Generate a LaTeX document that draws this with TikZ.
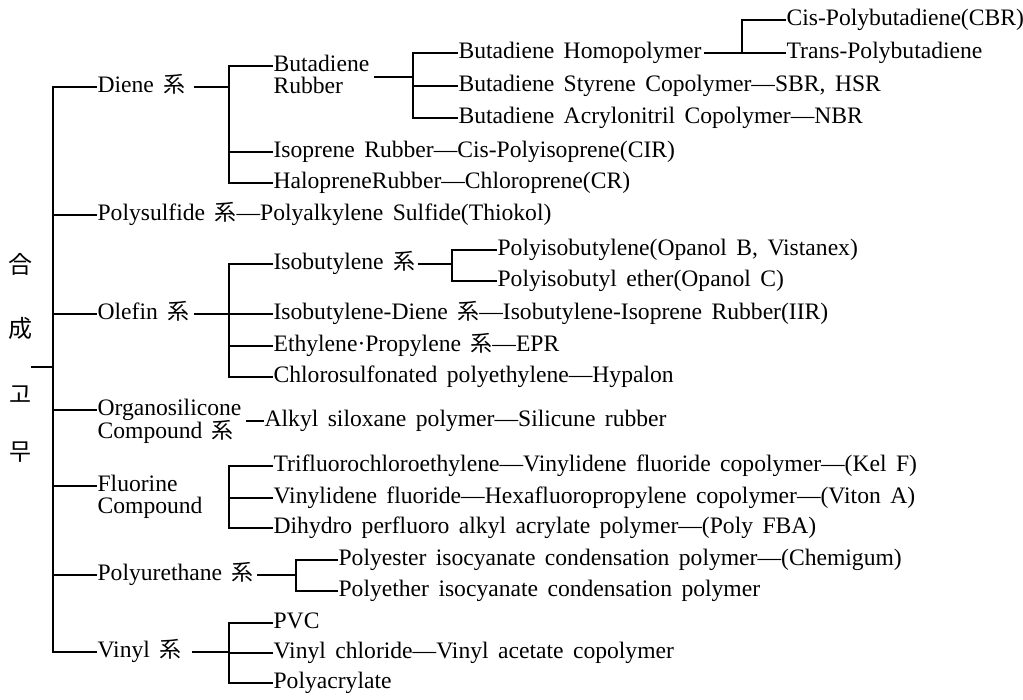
\documentclass[tikz,border=0pt]{standalone}
\usepackage{fontspec}
\setmainfont[WordSpace=1.6]{Liberation Serif}
\newfontfamily\cjk{Noto Sans CJK KR}
\newcommand\kei{{\cjk\fontsize{22}{24}\selectfont 系}}
\usetikzlibrary{calc}
\begin{document}
\begin{tikzpicture}[x=1pt,y=-1pt,line width=1.2pt,
  lbl/.style={anchor=west,inner sep=0pt,font=\fontsize{23.6}{26}\selectfont,text height=16pt,text depth=5pt},
  root/.style={inner sep=0pt,font=\cjk\fontsize{24}{26}\selectfont}]
\useasboundingbox[fill=white] (0,0) rectangle (1023,700);
% root label
\node[root] (r1) at (21,264) {合};
\node[root] (r2) at (21,328) {成};
\node[root] (r3) at (21,395) {고};
\node[root] (r4) at (21,452) {무};
\coordinate (rt) at (31,367);
\coordinate (sp) at (53,0);
% level 1
\node[lbl] (diene) at (97,87) {Diene \kei};
\node[lbl] (polys) at (97,215) {Polysulfide \kei—Polyalkylene Sulfide(Thiokol)};
\node[lbl] (olefin) at (97,314) {Olefin \kei};
\node[lbl] (orgA) at (97,410) {Organosilicone};
\node[lbl] (orgB) at (97,433) {Compound \kei};
\node[lbl] (fluA) at (97,486) {Fluorine};
\node[lbl] (fluB) at (97,508) {Compound};
\node[lbl] (pu) at (97,575) {Polyurethane \kei};
\node[lbl] (vinyl) at (97,652) {Vinyl \kei};
% level 2
\coordinate (bD) at (229,0);
\node[lbl] (butA) at (273,66) {Butadiene};
\node[lbl] (butB) at (273,88) {Rubber};
\node[lbl] (iso) at (273,152) {Isoprene Rubber—Cis-Polyisoprene(CIR)};
\node[lbl] (halo) at (273,183) {HalopreneRubber—Chloroprene(CR)};
\coordinate (bO) at (229,0);
\node[lbl] (isob) at (273,264) {Isobutylene \kei};
\node[lbl] (isod) at (273,314) {Isobutylene-Diene \kei—Isobutylene-Isoprene Rubber(IIR)};
\node[lbl] (ethp) at (273,346) {Ethylene·Propylene \kei—EPR};
\node[lbl] (chlo) at (273,377) {Chlorosulfonated polyethylene—Hypalon};
\node[lbl] (alkyl) at (264,421) {Alkyl siloxane polymer—Silicune rubber};
\coordinate (bF) at (229,0);
\node[lbl] (tri) at (273,466) {Trifluorochloroethylene—Vinylidene fluoride copolymer—(Kel F)};
\node[lbl] (vdf) at (273,498) {Vinylidene fluoride—Hexafluoropropylene copolymer—(Viton A)};
\node[lbl] (dih) at (273,528) {Dihydro perfluoro alkyl acrylate polymer—(Poly FBA)};
\coordinate (bP) at (296,0);
\node[lbl] (pest) at (338,560) {Polyester isocyanate condensation polymer—(Chemigum)};
\node[lbl] (peth) at (338,591) {Polyether isocyanate condensation polymer};
\coordinate (bV) at (229,0);
\node[lbl] (pvc) at (273,623) {PVC};
\node[lbl] (vcl) at (273,653) {Vinyl chloride—Vinyl acetate copolymer};
\node[lbl] (pac) at (273,683) {Polyacrylate};
% level 3
\coordinate (bB) at (413,0);
\node[lbl] (homo) at (458,53) {Butadiene Homopolymer};
\node[lbl] (sbr) at (458,86) {Butadiene Styrene Copolymer—SBR, HSR};
\node[lbl] (nbr) at (458,118) {Butadiene Acrylonitril Copolymer—NBR};
\coordinate (bI) at (452,0);
\node[lbl] (pib) at (497,250) {Polyisobutylene(Opanol B, Vistanex)};
\node[lbl] (pibe) at (497,281) {Polyisobutyl ether(Opanol C)};
% level 4
\coordinate (bH) at (742,0);
\node[lbl] (cis) at (786,20) {Cis-Polybutadiene(CBR)};
\node[lbl] (trans) at (786,53) {Trans-Polybutadiene};

% spine
\draw (diene.west) -- (diene.west -| sp) -- (vinyl.west -| sp) -- (vinyl.west);
\draw (rt) -- (rt -| sp);
\foreach \n in {polys,olefin,orgA,fluA,pu} \draw (\n.west -| sp) -- (\n.west);
% diene bracket
\draw ([xshift=8pt]diene.east) -- (diene.east -| bD);
\draw (butA.west) -- (bD |- butA.west) -- (bD |- halo.west) -- (halo.west);
\draw (bD |- iso.west) -- (iso.west);
\draw ($(butA.east)+(4,11)$) -- ($(bB |- butA.west)+(0,11)$);
\draw (homo.west) -- (bB |- homo.west) -- (bB |- nbr.west) -- (nbr.west);
\draw (bB |- sbr.west) -- (sbr.west);
\draw ([xshift=2pt]homo.east) -- (bH |- homo.west);
\draw (cis.west) -- (bH |- cis.west) -- (bH |- trans.west) -- (trans.west);
% olefin bracket
\draw ([xshift=4pt]olefin.east) -- (olefin.east -| bO);
\draw (isob.west) -- (bO |- isob.west) -- (bO |- chlo.west) -- (chlo.west);
\draw (bO |- isod.west) -- (isod.west);
\draw (bO |- ethp.west) -- (ethp.west);
\draw ([xshift=2pt]isob.east) -- (bI |- isob.west);
\draw (pib.west) -- (bI |- pib.west) -- (bI |- pibe.west) -- (pibe.west);
% organosilicone
\draw ([xshift=4pt]orgA.east |- alkyl.west) -- (alkyl.west);
% fluorine bracket
\draw (tri.west) -- (bF |- tri.west) -- (bF |- dih.west) -- (dih.west);
\draw (bF |- vdf.west) -- (vdf.west);
% polyurethane bracket
\draw ([xshift=3pt]pu.east) -- (pu.east -| bP);
\draw (pest.west) -- (bP |- pest.west) -- (bP |- peth.west) -- (peth.west);
% vinyl bracket
\draw ([xshift=10pt]vinyl.east) -- (vinyl.east -| bV);
\draw (pvc.west) -- (bV |- pvc.west) -- (bV |- pac.west) -- (pac.west);
\draw (bV |- vcl.west) -- (vcl.west);
\end{tikzpicture}
\end{document}
